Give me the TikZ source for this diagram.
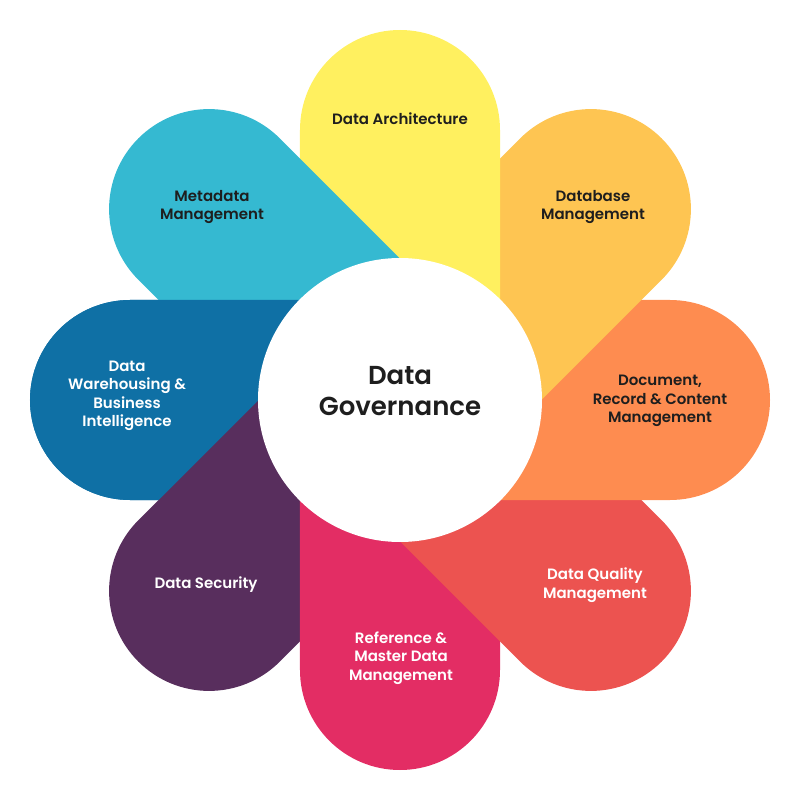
\documentclass[tikz,border=0pt]{standalone}
\usepackage{fontspec}
\setmainfont{Poppins SemiBold}
\definecolor{cY}{HTML}{FFF05F}
\definecolor{cDB}{HTML}{FEC552}
\definecolor{cDoc}{HTML}{FE8C50}
\definecolor{cDQ}{HTML}{EC5350}
\definecolor{cRef}{HTML}{E32D64}
\definecolor{cSec}{HTML}{582E5D}
\definecolor{cWH}{HTML}{0F70A5}
\definecolor{cMeta}{HTML}{35B9D1}
\definecolor{ink}{HTML}{1E1E1E}
\tikzset{
  lbl/.style={align=center, font=\fontsize{15}{18.5}\selectfont, inner sep=0pt},
  dark/.style={lbl, text=ink},
  light/.style={lbl, text=white},
}
\newcommand{\petalpath}{(-100,0) -- (-100,270) arc[start angle=180, end angle=0, radius=100] -- (100,0) -- cycle}
\begin{document}
\begin{tikzpicture}[x=1pt,y=1pt]
\useasboundingbox (-400,-400) rectangle (400,400);
% petals, bottom to top
\fill[cWH,rotate=90] \petalpath;
\fill[cSec,rotate=135] \petalpath;
\fill[cRef,rotate=180] \petalpath;
\fill[cDQ,rotate=-135] \petalpath;
\fill[cDoc,rotate=-90] \petalpath;
\fill[cDB,rotate=-45] \petalpath;
\fill[cY] \petalpath;
\fill[cMeta,rotate=45] \petalpath;
% warehousing over metadata
\begin{scope}
  \clip (-600,-458.6) -- (358.6,500) -- (-600,500) -- cycle;
  \fill[cWH,rotate=90] \petalpath;
\end{scope}
% centre
\node[circle, fill=white, minimum size=284pt, inner sep=0pt] (c) at (0,0) {};
\node[align=center, inner sep=0pt, text=ink, font=\fontsize{26}{31}\selectfont] (dg) at (0,9) {Data\\Governance};
% labels
\node[dark] (arch) at (0,281) {Data Architecture};
\node[dark] (meta) at (-188,193) {Metadata\\Management};
\node[dark] (db) at (193,193) {Database\\Management};
\node[light] (wh) at (-273,4) {Data\\Warehousing \&\\Business\\Intelligence};
\node[dark] (doc) at (260,-1) {Document,\\Record \& Content\\Management};
\node[light] (sec) at (-194,-185) {Data Security};
\node[light] (dq) at (195,-185) {Data Quality\\Management};
\node[light] (ref) at (1,-258) {Reference \&\\Master Data\\Management};
\end{tikzpicture}
\end{document}
